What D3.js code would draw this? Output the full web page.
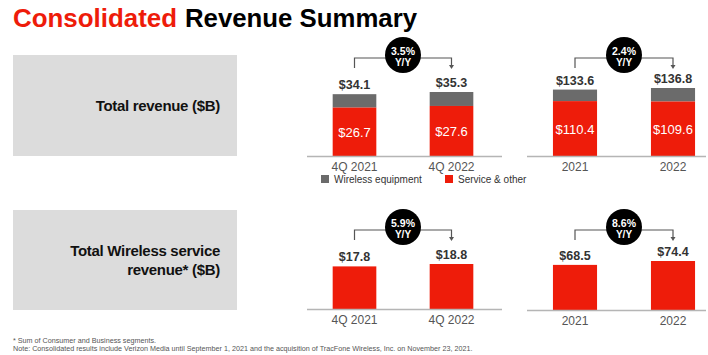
<!DOCTYPE html>
<html>
<head>
<meta charset="utf-8">
<script src="https://cdn.jsdelivr.net/npm/d3@7/dist/d3.min.js"></script>
<style>
  html, body { margin: 0; padding: 0; background: #fff; }
  svg { display: block; font-family: "Liberation Sans", Arial, sans-serif; }
</style>
</head>
<body>
<svg id="chart" width="708" height="355"></svg>
<script>
// ---- Data ----
const quarterLabels = ["4Q 2021", "4Q 2022"];
const yearLabels = ["2021", "2022"];
const totalRevenueQ = [34.1, 35.3];
const serviceOtherQ = [26.7, 27.6];
const totalRevenueY = [133.6, 136.8];
const serviceOtherY = [110.4, 109.6];
const wirelessServiceQ = [17.8, 18.8];
const wirelessServiceY = [68.5, 74.4];
const yoyLabels = ["3.5%", "2.4%", "5.9%", "8.6%"];
const legendLabels = ["Wireless equipment", "Service & other"];
const rowLabels = [["Total revenue ($B)"], ["Total Wireless service", "revenue* ($B)"]];
const footnotes = [
  "* Sum of Consumer and Business segments.",
  "Note: Consolidated results include Verizon Media until September 1, 2021 and the acquisition of TracFone Wireless, Inc. on November 23, 2021."
];

const RED = "#ee1c0a", GRAY = "#6b6b6b";
const svg = d3.select("#chart");

// ---- Title ----
svg.append("text").attr("x", 13).attr("y", 27)
  .attr("font-size", 26).attr("font-weight", 700).attr("fill", "#ee1c0a")
  .attr("textLength", 164).attr("lengthAdjust", "spacingAndGlyphs")
  .text("Consolidated");
svg.append("text").attr("x", 185).attr("y", 27)
  .attr("font-size", 26).attr("font-weight", 700).attr("fill", "#000")
  .attr("textLength", 232).attr("lengthAdjust", "spacingAndGlyphs")
  .text("Revenue Summary");

// ---- Row label boxes ----
const boxes = [{y: 55, h: 101}, {y: 210, h: 100}];
boxes.forEach((b, i) => {
  svg.append("rect").attr("x", 13).attr("y", b.y).attr("width", 224).attr("height", b.h)
    .attr("fill", "#dcdcdc");
  const lines = rowLabels[i];
  const midY = b.y + b.h / 2;
  const lh = 19;
  lines.forEach((t, j) => {
    svg.append("text").attr("x", 220)
      .attr("y", midY + 5 + (j - (lines.length - 1) / 2) * lh)
      .attr("text-anchor", "end").attr("font-size", 15).attr("font-weight", 700)
      .attr("fill", "#111").attr("letter-spacing", -0.3).text(t);
  });
});

// ---- Panels ----
const panels = [
  {cats: quarterLabels, total: totalRevenueQ, service: serviceOtherQ, x0: 306, x1: 500, axisY: 156, hMax: 64, axisL: 307, axisR: 502, yoy: yoyLabels[0], cy: 55, stacked: true},
  {cats: yearLabels, total: totalRevenueY, service: serviceOtherY, x0: 526, x1: 722, axisY: 156, hMax: 68, axisL: 527, axisR: 706, yoy: yoyLabels[1], cy: 55, stacked: true},
  {cats: quarterLabels, total: wirelessServiceQ, service: wirelessServiceQ, x0: 306, x1: 500, axisY: 309, hMax: 45, axisL: 307, axisR: 502, yoy: yoyLabels[2], cy: 227, stacked: false},
  {cats: yearLabels, total: wirelessServiceY, service: wirelessServiceY, x0: 526, x1: 722, axisY: 310, hMax: 49, axisL: 527, axisR: 706, yoy: yoyLabels[3], cy: 227, stacked: false}
];

panels.forEach(p => {
  const x = d3.scaleBand().domain(p.cats).range([p.x0, p.x1])
    .paddingInner(0.55).paddingOuter(0.275);
  const maxV = d3.max(p.total);
  const y = d3.scaleLinear().domain([0, maxV]).range([p.axisY, p.axisY - p.hMax]);
  const g = svg.append("g");
  const rows = p.cats.map((c, i) => ({cat: c, total: p.total[i], service: p.service[i]}));

  if (p.stacked) {
    g.selectAll(".eq").data(rows).join("rect")
      .attr("x", d => x(d.cat)).attr("width", x.bandwidth())
      .attr("y", d => y(d.total)).attr("height", d => y(d.service) - y(d.total))
      .attr("fill", GRAY);
  }
  g.selectAll(".sv").data(rows).join("rect")
    .attr("x", d => x(d.cat)).attr("width", x.bandwidth())
    .attr("y", d => y(d.service)).attr("height", d => y(0) - y(d.service))
    .attr("fill", RED);

  g.append("line").attr("x1", p.axisL).attr("x2", p.axisR)
    .attr("y1", p.axisY + 0.5).attr("y2", p.axisY + 0.5)
    .attr("stroke", "#b5b5b5").attr("stroke-width", 1.5);

  g.selectAll(".tl").data(rows).join("text")
    .attr("x", d => x(d.cat) + x.bandwidth() / 2).attr("y", d => y(d.total) - 5)
    .attr("text-anchor", "middle").attr("font-size", 12.5).attr("font-weight", 700)
    .attr("fill", "#333").text(d => "$" + d.total.toFixed(1));

  if (p.stacked) {
    g.selectAll(".il").data(rows).join("text")
      .attr("x", d => x(d.cat) + x.bandwidth() / 2)
      .attr("y", d => (y(d.service) + y(0)) / 2 + 5)
      .attr("text-anchor", "middle").attr("font-size", 13)
      .attr("fill", "#fff").text(d => "$" + d.service.toFixed(1));
  }

  g.selectAll(".cl").data(rows).join("text")
    .attr("x", d => x(d.cat) + x.bandwidth() / 2).attr("y", p.axisY + 15)
    .attr("text-anchor", "middle").attr("font-size", 12)
    .attr("fill", "#555").text(d => d.cat);

  // Y/Y bracket
  const xa = x(p.cats[0]) + x.bandwidth() / 2;
  const xb = x(p.cats[1]) + x.bandwidth() / 2;
  const hy = p.cy + 3, vy = p.cy + 13;
  g.append("path")
    .attr("d", `M${xa},${vy} V${hy} H${xb} V${vy - 2}`)
    .attr("fill", "none").attr("stroke", "#555").attr("stroke-width", 1.2);
  g.append("path")
    .attr("d", `M${xb - 2.5},${vy - 3} L${xb + 2.5},${vy - 3} L${xb},${vy + 1} Z`)
    .attr("fill", "#555");
  const cx = (x(p.cats[0]) + x(p.cats[1]) + x.bandwidth()) / 2;
  g.append("circle").attr("cx", cx).attr("cy", p.cy).attr("r", 18).attr("fill", "#000");
  g.append("text").attr("x", cx).attr("y", p.cy).attr("text-anchor", "middle")
    .attr("font-size", 10.5).attr("font-weight", 700).attr("fill", "#fff").text(p.yoy);
  g.append("text").attr("x", cx).attr("y", p.cy + 11).attr("text-anchor", "middle")
    .attr("font-size", 10).attr("font-weight", 700).attr("fill", "#fff").text("Y/Y");
});

// ---- Legend ----
const legendItems = [{label: legendLabels[0], color: GRAY, x: 321}, {label: legendLabels[1], color: RED, x: 445}];
legendItems.forEach(l => {
  svg.append("rect").attr("x", l.x).attr("y", 175).attr("width", 8).attr("height", 8).attr("fill", l.color);
  svg.append("text").attr("x", l.x + 13).attr("y", 183).attr("font-size", 10)
    .attr("fill", "#333").text(l.label);
});

// ---- Footnotes ----
footnotes.forEach((t, i) => {
  svg.append("text").attr("x", 13).attr("y", 343 + i * 8).attr("font-size", 7.2)
    .attr("fill", "#555").text(t);
});
</script>
</body>
</html>
